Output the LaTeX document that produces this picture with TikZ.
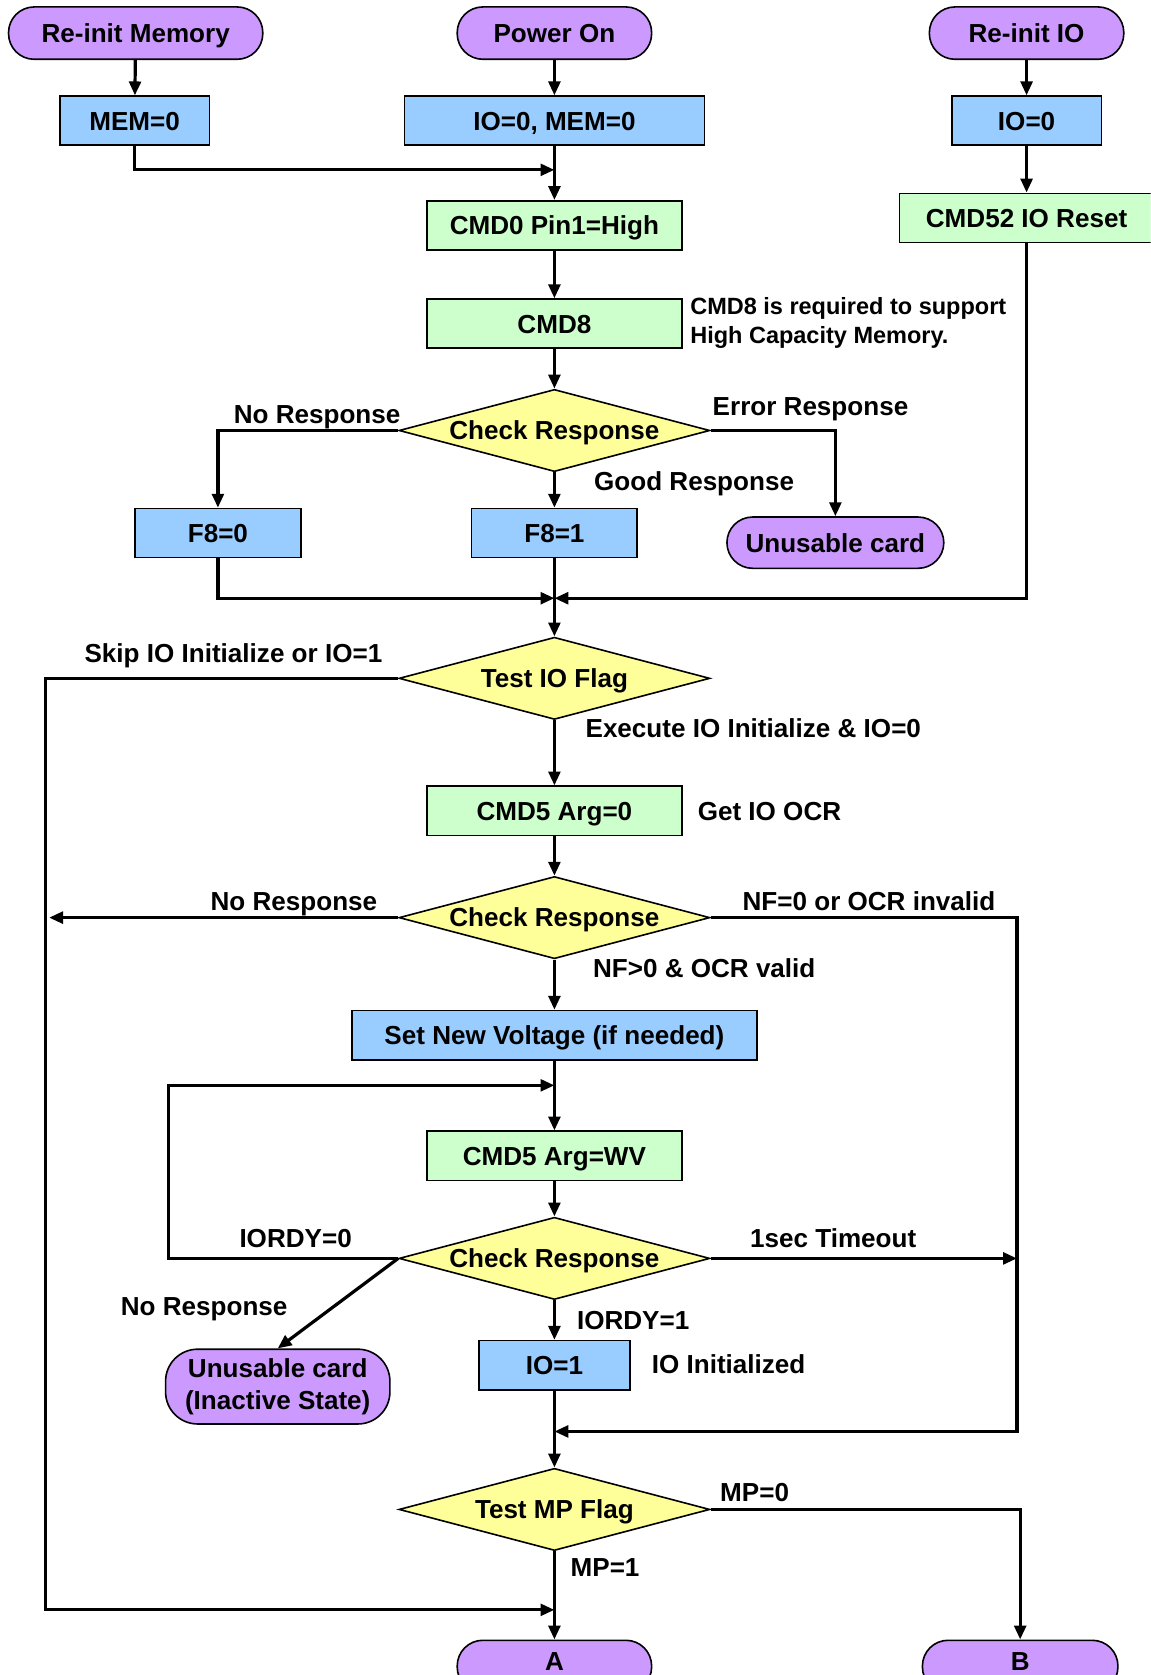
\documentclass[tikz,border=0pt]{standalone}
\usepackage{fontspec}
\setmainfont{Liberation Sans}
\usetikzlibrary{shapes.geometric,arrows.meta}
\definecolor{termpurple}{HTML}{CC99FF}
\definecolor{setblue}{HTML}{99CCFF}
\definecolor{cmdgreen}{HTML}{CCFFCC}
\definecolor{testyellow}{HTML}{FFFF99}
\tikzset{
  base/.style={draw, line width=1.5pt, inner sep=0pt, text height=17.5pt, text depth=0pt},
  termbox/.style={base, fill=termpurple, rounded corners=24pt, minimum height=49pt},
  setbox/.style={base, fill=setblue, minimum height=46pt},
  cmdbox/.style={base, fill=cmdgreen, minimum height=46pt},
  testbox/.style={base, diamond, fill=testyellow, aspect=3.78, minimum width=291pt, minimum height=77pt},
  lbl/.style={anchor=base west, inner sep=0pt},
  arr/.style={line width=3pt, -{Triangle[length=13pt,width=11pt]}}
}
\begin{document}
\begin{tikzpicture}[x=1pt, y=-1pt, font=\fontsize{24.4}{29}\selectfont\bfseries]
    \clip (0,0) rectangle (1077,1568);
    \node[termbox, minimum width=238pt] (reinitmem) at (127,31) {Re-init Memory};
    \node[termbox, minimum width=182pt] (poweron) at (519,31) {Power On};
    \node[termbox, minimum width=182pt] (reinitio) at (961,31) {Re-init IO};
    \node[setbox, minimum width=140pt] (mem) at (126,113) {MEM=0};
    \node[setbox, minimum width=281pt] (iomem) at (519,113) {IO=0, MEM=0};
    \node[setbox, minimum width=140pt] (io0) at (961,113) {IO=0};
    \node[cmdbox, minimum width=239pt] (cmd0) at (519,211) {CMD0 Pin1=High};
    \node[cmdbox, minimum width=238pt] (cmd52) at (961,204) {CMD52 IO Reset};
    \node[cmdbox, minimum width=239pt] (cmd8) at (519,303) {CMD8};
    \node[anchor=north west, align=left, inner sep=0pt, font=\fontsize{22}{27}\selectfont\bfseries] (note) at (646,278) {CMD8 is required to support\\High Capacity Memory.};
    \node[testbox] (chk1) at (519,403) {Check Response};
    \node[setbox, minimum width=155pt] (f80) at (204,499) {F8=0};
    \node[setbox, minimum width=155pt] (f81) at (519,499) {F8=1};
    \node[termbox, minimum width=203pt, minimum height=48pt] (unus) at (782,508) {Unusable card};
    \node[testbox] (testio) at (519,635) {Test IO Flag};
    \node[cmdbox, minimum width=239pt] (cmd5) at (519,759) {CMD5 Arg=0};
    \node[testbox] (chk2) at (519,859) {Check Response};
    \node[setbox, minimum width=379pt] (volt) at (519,969) {Set New Voltage (if needed)};
    \node[cmdbox, minimum width=239pt] (cmdwv) at (519,1082) {CMD5 Arg=WV};
    \node[testbox] (chk3) at (519,1178) {Check Response};
    \node[termbox, rounded corners=30pt, minimum width=210pt, minimum height=70pt, text height=, text depth=, align=center, font=\fontsize{24.4}{30}\selectfont\bfseries] (dead) at (260,1298) {Unusable card\\(Inactive State)};
    \node[setbox, minimum width=141pt] (io1) at (519,1278) {IO=1};
    \node[testbox] (testmp) at (519,1413) {Test MP Flag};
    \node[termbox, minimum width=182pt, text depth=10pt] (anode) at (519,1560) {A};
    \node[termbox, minimum width=183pt, text depth=10pt] (bnode) at (955,1560) {B};

    \node[lbl, anchor=base east] (lnr1) at (375,396) {No Response};
    \node[lbl] (lerr) at (667,389) {Error Response};
    \node[lbl] (lgood) at (556,459) {Good Response};
    \node[lbl] (lskip) at (79,620) {Skip IO Initialize or IO=1};
    \node[lbl] (lexec) at (548,690) {Execute IO Initialize \& IO=0};
    \node[lbl] (locr) at (653,768) {Get IO OCR};
    \node[lbl] (lnr2) at (197,852) {No Response};
    \node[lbl] (lnf0) at (695,852) {NF=0 or OCR invalid};
    \node[lbl] (lnf1) at (555,915) {NF>0 \& OCR valid};
    \node[lbl] (lrdy0) at (224,1168) {IORDY=0};
    \node[lbl] (ltime) at (702,1168) {1sec Timeout};
    \node[lbl] (lnr3) at (113,1231) {No Response};
    \node[lbl] (lrdy1) at (540,1245) {IORDY=1};
    \node[lbl] (linit) at (610,1286) {IO Initialized};
    \node[lbl] (lmp0) at (674,1406) {MP=0};
    \node[lbl] (lmp1) at (534,1476) {MP=1};

    \coordinate (j1) at (519,159);
    \coordinate (j2) at (519,560);
    \coordinate (j3) at (519,1016);
    \coordinate (j4) at (519,1340);
    \coordinate (j5) at (519,1507);
    \coordinate (rail) at (952,1340);
    \coordinate (lrail) at (46,859);

    \draw[arr] (reinitmem) -- (mem);
    \draw[arr] (poweron) -- (iomem);
    \draw[arr] (reinitio) -- (io0);
    \draw[arr] (mem.south) |- (j1);
    \draw[arr] (iomem) -- (cmd0);
    \draw[arr] (io0) -- (cmd52);
    \draw[arr] (cmd0) -- (cmd8);
    \draw[arr] (cmd8) -- (chk1.north);
    \draw[arr] (chk1.west) -| (f80.north);
    \draw[arr] (chk1.east) -| (unus.north);
    \draw[arr] (chk1.south) -- (f81.north);
    \draw[arr] (f80.south) |- (j2);
    \draw[arr] (cmd52.south) |- (j2);
    \draw[arr] (f81.south) -- (testio.north);
    \draw[arr] (testio.west) -- ++(-330,0) |- (j5);
    \draw[arr] (testio.south) -- (cmd5.north);
    \draw[arr] (cmd5.south) -- (chk2.north);
    \draw[arr] (chk2.west) -- (lrail);
    \draw[arr] (chk2.east) -| (rail) -- (j4);
    \draw[arr] (chk2.south) -- (volt.north);
    \draw[arr] (volt.south) -- (cmdwv.north);
    \draw[arr] (chk3.west) -- ++(-215,0) |- (j3);
    \draw[arr] (cmdwv.south) -- (chk3.north);
    \draw[arr] (chk3.east) -- (chk3.east -| rail);
    \draw[arr] (chk3.west) -- (dead.north);
    \draw[arr] (chk3.south) -- (io1.north);
    \draw[arr] (io1.south) -- (testmp.north);
    \draw[arr] (testmp.east) -| (bnode.north);
    \draw[arr] (testmp.south) -- (anode.north);
\end{tikzpicture}
\end{document}
